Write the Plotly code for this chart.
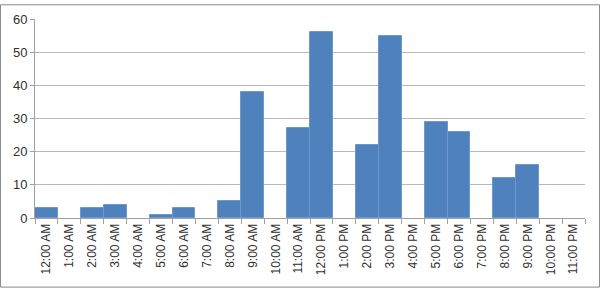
import plotly.graph_objects as go

hours = ["12:00 AM", "1:00 AM", "2:00 AM", "3:00 AM", "4:00 AM", "5:00 AM", "6:00 AM",
         "7:00 AM", "8:00 AM", "9:00 AM", "10:00 AM", "11:00 AM", "12:00 PM", "1:00 PM",
         "2:00 PM", "3:00 PM", "4:00 PM", "5:00 PM", "6:00 PM", "7:00 PM", "8:00 PM",
         "9:00 PM", "10:00 PM", "11:00 PM"]
counts = [3, 0, 3, 4, 0, 1, 3, 0, 5, 38, 0, 27, 56, 0, 22, 55, 0, 29, 26, 0, 12, 16, 0, 0]
y_ticks = [0, 10, 20, 30, 40, 50, 60]

W, H = 600, 289
L, R, T, B = 35, 15, 15, 71
pw, ph = W - L - R, H - T - B

edge_widths = [1 if v > 0 else 0 for v in counts]

fig = go.Figure(go.Bar(
    x=hours, y=counts,
    marker=dict(color="#4F81BD", line=dict(color="#6E98CC", width=edge_widths)),
))

fig.update_layout(
    width=W, height=H,
    margin=dict(l=L, r=R, t=T, b=B, pad=0),
    paper_bgcolor="white", plot_bgcolor="white",
    bargap=0, showlegend=False,
    font=dict(family="Liberation Sans, Arial, sans-serif", size=12, color="#303030"),
    xaxis=dict(
        type="category", tickangle=-90, tickson="boundaries",
        ticks="outside", ticklen=5, tickcolor="#A0A0A0",
        showline=True, linecolor="#A0A0A0", linewidth=1,
        showgrid=False, tickfont=dict(size=12, color="#303030"),
    ),
    yaxis=dict(
        range=[0, 60], tickvals=y_ticks, ticks="outside", ticklen=4, tickcolor="#A0A0A0",
        showline=True, linecolor="#A0A0A0", linewidth=1,
        showgrid=True, gridcolor="#B8B8B8", gridwidth=1, zeroline=False,
        tickfont=dict(size=13, color="#303030"),
    ),
    shapes=[dict(
        type="rect", xref="paper", yref="paper",
        x0=(0.5 - L) / pw, x1=(W - 0.5 - L) / pw,
        y0=-(B - 0.5) / ph,
        y1=1 + (T - 0.5) / ph,
        line=dict(color="#8C8C8C", width=1),
    )],
)

fig.write_html("out.html")
